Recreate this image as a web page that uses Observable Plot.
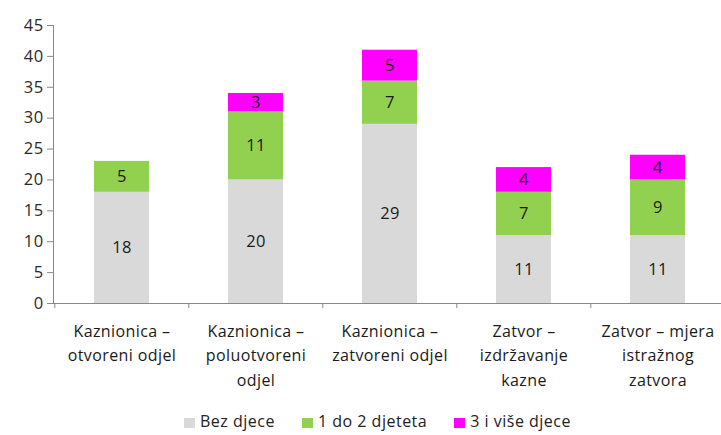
<!DOCTYPE html>
<html><head><meta charset="utf-8">
<script src="https://cdn.jsdelivr.net/npm/d3@7"></script>
<script src="https://cdn.jsdelivr.net/npm/@observablehq/plot@0.6"></script>
<style>
body{margin:0;background:#fff;font-family:"Open Sans",sans-serif;}
#legend{display:flex;justify-content:center;gap:27px;font-size:16px;letter-spacing:0.5px;color:#222;margin-top:5px;padding-left:34px}
#legend span.sw{display:inline-block;width:11px;height:10px;margin-right:5px;vertical-align:-1px}
svg text{letter-spacing:0.4px}
</style></head>
<body><div id="chart"></div><div id="legend"></div>
<script>
const categories = ["Kaznionica –\notvoreni odjel","Kaznionica –\npoluotvoreni\nodjel","Kaznionica –\nzatvoreni odjel","Zatvor –\nizdržavanje\nkazne","Zatvor – mjera\nistražnog\nzatvora"];
const series = ["Bez djece","1 do 2 djeteta","3 i više djece"];
const bezDjece = [18,20,29,11,11];
const jednoDvoje = [5,11,7,7,9];
const triVise = [0,3,5,4,4];
const colors = ["#d9d9d9","#92d050","#ff00ff"];
const yTicks = [0,5,10,15,20,25,30,35,40,45];

const vals = [bezDjece, jednoDvoje, triVise];
const data = [];
series.forEach((s,si)=>categories.forEach((c,ci)=>{ if(vals[si][ci]>0) data.push({cat:c, series:s, value:vals[si][ci]}); }));

const W=721, H=405, mL=53, mR=-4;
const step=(W-mL-mR)/categories.length;

const chart = Plot.plot({
  width:W, height:H, marginLeft:mL, marginRight:mR, marginTop:25, marginBottom:102,
  style:{fontFamily:"'Open Sans', sans-serif", fontSize:"16px", color:"#222", background:"#fff", overflow:"hidden"},
  x:{domain:categories, paddingInner:0.59, paddingOuter:0.295, label:null},
  y:{domain:[0,45], label:null},
  color:{domain:series, range:colors},
  marks:[
    Plot.barY(data, Plot.stackY({x:"cat", y:"value", fill:"series", order:series})),
    Plot.text(data, Plot.stackY({x:"cat", y:"value", z:"series", order:series, text:"value", fill:"#1a1a1a", fontSize:16.5})),
    Plot.axisY({ticks:yTicks, tickSize:6, tickPadding:4, stroke:"#888", fill:"#2a2a2a", fontSize:16.5, label:null}),
    Plot.frame({anchor:"left", stroke:"#888"}),
    Plot.ruleY([0], {stroke:"#888"}),
    Plot.tickX(categories, {x:d=>d, y1:0, y2:0, dx:-step/2, stroke:"#888", render:(i,s,v,d,c,next)=>{const g=next(i,s,v,d,c); g.querySelectorAll("line").forEach(l=>{const y=+l.getAttribute("y2"); l.setAttribute("y1",y); l.setAttribute("y2",y+5);}); return g;}}),
    Plot.axisX({tickSize:0, tickPadding:16, lineHeight:1.53, fill:"#1a1a1a", fontSize:16, label:null, textAnchor:"middle"})
  ]
});
document.getElementById("chart").append(chart);
const leg=document.getElementById("legend");
series.forEach((s,i)=>{const d=document.createElement("div"); d.innerHTML=`<span class="sw" style="background:${colors[i]}"></span>${s}`; leg.append(d);});
</script></body></html>
